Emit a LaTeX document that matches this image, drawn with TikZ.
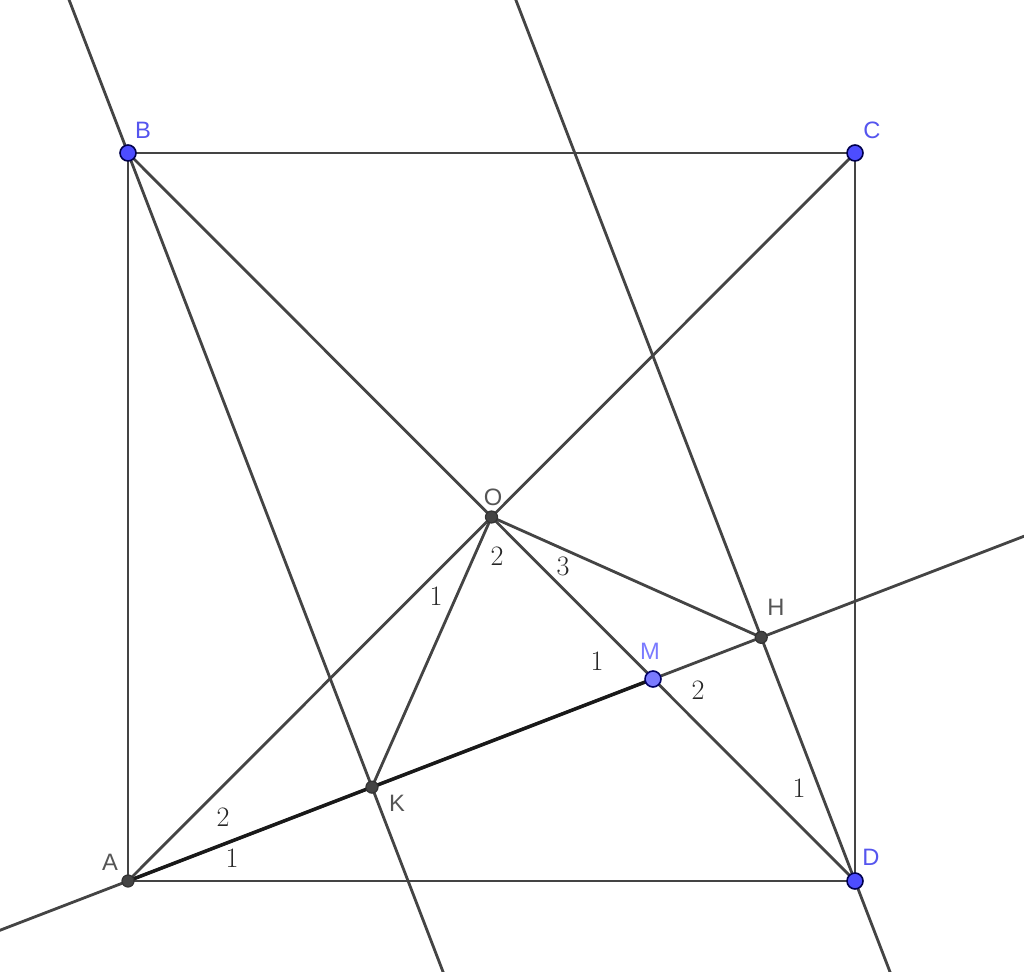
\documentclass[tikz,border=0pt]{standalone}
\usepackage{fontspec}
\setsansfont{Liberation Sans}
\usetikzlibrary{calc}
\definecolor{ln}{HTML}{444444}
\definecolor{bluept}{HTML}{4D4DFF}
\definecolor{mpt}{HTML}{7A7AFF}
\definecolor{lblgray}{HTML}{555555}
\definecolor{lblblue}{HTML}{5555EE}
\begin{document}
\begin{tikzpicture}[x=0.02cm,y=-0.02cm,
  seg/.style={draw=ln,line width=1.6pt},
  bold/.style={draw=black!90,line width=2pt},
  bpt/.style={circle,fill=bluept,draw=black!70!blue,line width=0.9pt,inner sep=0pt,minimum size=0.32cm},
  mptst/.style={circle,fill=mpt,draw=black!60!blue,line width=0.9pt,inner sep=0pt,minimum size=0.32cm},
  gpt/.style={circle,fill=ln,draw=black!80,line width=0.7pt,inner sep=0pt,minimum size=0.24cm},
  lblg/.style={text=lblgray,font=\sffamily\fontsize{13.5}{15}\selectfont,inner sep=0pt},
  lblb/.style={text=lblblue,font=\sffamily\fontsize{13.5}{15}\selectfont,inner sep=0pt},
  num/.style={text=black!85,font=\fontsize{16}{18}\selectfont,inner sep=0pt}]
\useasboundingbox (0,0) rectangle (1024,972);
\coordinate (A) at (128,881);
\coordinate (B) at (128,153);
\coordinate (C) at (855,153);
\coordinate (D) at (855,881);
\coordinate (O) at (491.5,517);
\coordinate (M) at (653,679);
\coordinate (K) at ($(A)!(B)!(M)$);
\coordinate (H) at ($(A)!(D)!(M)$);
\begin{scope}
\clip (0,0) rectangle (1024,972);
\draw[seg] ($(M)!6!(A)$) -- ($(A)!6!(M)$);
\draw[seg] ($(K)!8!(B)$) -- ($(B)!8!(K)$);
\draw[seg] ($(H)!8!(D)$) -- ($(D)!8!(H)$);
\end{scope}
\draw[seg] (A) -- (B) -- (C) -- (D) -- cycle;
\draw[seg] (A) -- (C);
\draw[seg] (B) -- (D);
\draw[seg] (O) -- (K);
\draw[seg] (O) -- (H);
\draw[bold] (A) -- (M);
\node[gpt] (nA) at (A) {};
\node[gpt] (nK) at (K) {};
\node[gpt] (nH) at (H) {};
\node[gpt] (nO) at (O) {};
\node[bpt] (nB) at (B) {};
\node[bpt] (nC) at (C) {};
\node[bpt] (nD) at (D) {};
\node[mptst] (nM) at (M) {};
\node[lblb] (lB) at (143,130) {B};
\node[lblb] (lC) at (872,130) {C};
\node[lblb] (lD) at (871,857) {D};
\node[lblb,text=mpt] (lM) at (650,651) {M};
\node[lblg] (lA) at (110,862) {A};
\node[lblg] (lO) at (493,497) {O};
\node[lblg] (lK) at (397,803) {K};
\node[lblg] (lH) at (776,607) {H};
\node[num] (n1) at (436,596) {1};
\node[num] (n2) at (497,556) {2};
\node[num] (n3) at (563,566) {3};
\node[num] (n4) at (597,661) {1};
\node[num] (n5) at (698,690) {2};
\node[num] (n6) at (799,788) {1};
\node[num] (n7) at (223,817) {2};
\node[num] (n8) at (232,858) {1};
\end{tikzpicture}
\end{document}
